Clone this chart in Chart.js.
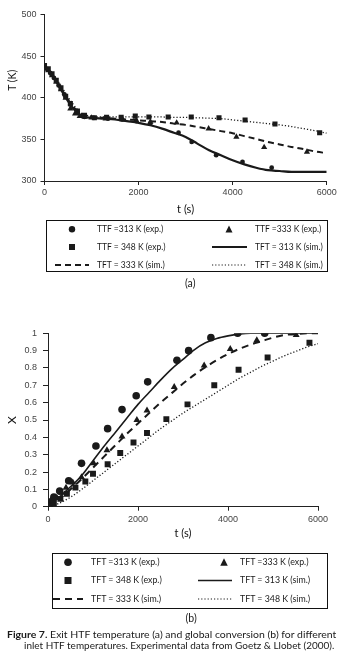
<!DOCTYPE html>
<html><head><meta charset="utf-8">
<script src="https://cdn.jsdelivr.net/npm/chart.js@4.4.0/dist/chart.umd.min.js"></script>
<style>
html,body{margin:0;padding:0;background:#fff;}
body{width:345px;height:670px;position:relative;overflow:hidden;font-family:Lato,"Noto Sans",sans-serif;color:#1a1a1a;}
canvas{position:absolute;left:0;}
.t{position:absolute;white-space:nowrap;line-height:1;}
.box{position:absolute;border:1px solid #111;box-sizing:border-box;}
svg{position:absolute;left:0;top:0;overflow:visible;}
</style></head><body>
<canvas id="ca" width="345" height="216" style="top:0"></canvas>
<canvas id="cb" width="345" height="220" style="top:320px"></canvas>
<svg id="sym" width="345" height="670"></svg>
<div id="txt"></div>
<script>
// ---------- Panel (a): exit HTF temperature ----------
const timeA313exp = [0,60,120,200,300,420,550,700,850,1050,1350,1650,1950,2250,2850,3130,3650,4210,4830];
const tempA313exp = [437,434,430,424,415,404,392,382,377,376,375,374,372,369,358,347,331,323,316];
const timeA333exp = [0,80,160,250,350,450,550,650,750,850,1000,1300,1650,1950,2250,2810,3490,4080,4670,5580];
const tempA333exp = [438,433,427,419,410,400,387,381,378,377,376,375,374,372.5,371,370,363,353,340.5,335];
const timeA348exp = [0,80,160,250,350,450,550,700,850,1060,1320,1630,1930,2220,2630,3120,3710,4265,4900,5850];
const tempA348exp = [439,435,429,421,412,402,393,384,379,376,376.5,376.5,378,377,377,377,376,373.3,368.5,358];
const timeSimA  = [0,100,200,300,400,500,600,700,800,1000,1250,1500,1750,2000,2250,2500,2750,3000,3250,3500,3750,4000,4250,4500,4750,5000,5250,5500,5750,6000];
const tempSim313 = [438,432,424,415,405,396,388,382,378,376,375,374,372,370,367,363,358,353,345,337,331,325,320,316,313,312,311,311,311,311];
const tempSim333 = [438,432,425,416,407,398,390,384,380,377,376,375,374,373,372,371,369,367.5,365,362.5,360,357.5,354,350.5,347,344,341,338.5,335.5,333.5];
const tempSim348 = [440,434,427,419,410,401,393,386,381,378,377,377,377,377,377,377,376.5,376.5,376,375.5,375,373.5,372,370.5,369,367.5,365.5,363,360.5,357.5];
const ticksA_x = [0,2000,4000,6000];
const ticksA_y = [300,350,400,450,500];

// ---------- Panel (b): global conversion ----------
const timeB313exp = [30,80,130,260,460,745,1065,1325,1645,1960,2215,2865,3125,3620,4215,4815];
const convB313exp = [0.01,0.03,0.055,0.09,0.15,0.25,0.35,0.45,0.56,0.64,0.72,0.845,0.9,0.975,1.0,1.0];
const timeB333exp = [30,100,200,300,400,550,745,1015,1310,1645,1975,2200,2805,3470,4050,4640,5515];
const convB333exp = [0.01,0.03,0.05,0.08,0.11,0.14,0.17,0.25,0.325,0.405,0.5,0.555,0.69,0.815,0.91,0.96,0.99];
const timeB348exp = [30,130,275,420,610,830,1000,1325,1605,1900,2200,2630,3100,3695,4235,4880,5810];
const convB348exp = [0.005,0.02,0.045,0.075,0.11,0.145,0.19,0.245,0.31,0.37,0.425,0.505,0.59,0.7,0.79,0.86,0.945];
const timeSimB313 = [0,250,500,750,1000,1250,1500,1750,2000,2250,2500,2750,3000,3250,3500,3750,4000,4250,4500,5000,5500,6000];
const convSim313  = [0,0.055,0.115,0.18,0.265,0.35,0.43,0.51,0.59,0.66,0.73,0.795,0.85,0.905,0.945,0.97,0.985,0.995,1,1,1,1];
const timeSimB = [0,250,500,750,1000,1250,1500,1750,2000,2250,2500,2750,3000,3250,3500,3750,4000,4250,4500,4750,5000,5250,5500,5750,6000];
const convSim333 = [0,0.045,0.1,0.16,0.225,0.29,0.355,0.42,0.48,0.54,0.6,0.655,0.71,0.76,0.805,0.845,0.88,0.91,0.935,0.955,0.975,0.99,0.995,1,1];
const timeSimB348 = [0,100,250,500,750,1000,1250,1500,1750,2000,2250,2500,2750,3000,3250,3500,3750,4000,4250,4500,4750,5000,5250,5500,5750,6000];
const convSim348  = [0,0.005,0.02,0.055,0.1,0.15,0.2,0.25,0.3,0.35,0.4,0.45,0.495,0.54,0.58,0.62,0.66,0.7,0.74,0.775,0.81,0.84,0.87,0.895,0.92,0.94];
const ticksB_x = [0,2000,4000,6000];

const INK = '#1a1a1a';
const pts = (xs, ys) => xs.map((x, i) => ({x, y: ys[i]}));
const marker = (xs, ys, style, r) => ({data: pts(xs, ys), pointStyle: style, pointRadius: r,
  pointBackgroundColor: INK, pointBorderColor: INK, pointBorderWidth: 0, showLine: false});
const line = (xs, ys, w, dash) => ({data: pts(xs, ys), showLine: true, pointRadius: 0,
  borderColor: INK, borderWidth: w, borderDash: dash, cubicInterpolationMode: 'monotone', fill: false});

const tickFont = {family: '"Liberation Sans", Arial, sans-serif', size: 9};
function axisCommon(extra) {
  return Object.assign({
    type: 'linear',
    grid: {display: true, drawOnChartArea: false, drawTicks: true, tickLength: 4, color: '#222', lineWidth: 1},
    border: {display: true, color: '#222', width: 1},
  }, extra);
}
const plain = v => String(Number(Number(v).toFixed(1)));

new Chart(document.getElementById('ca'), {
  type: 'scatter',
  data: {datasets: [
    line(timeSimA, tempSim348, 1.3, [1.2, 2]),
    line(timeSimA, tempSim333, 2, [6, 4]),
    line(timeSimA, tempSim313, 2.2, []),
    marker(timeA348exp, tempA348exp, 'rect', 3.6),
    marker(timeA333exp, tempA333exp, 'triangle', 3.6),
    marker(timeA313exp, tempA313exp, 'circle', 2.4),
  ]},
  options: {
    responsive: false, animation: false, devicePixelRatio: 1,
    layout: {padding: {top: 14.7, right: 18.3, left: 0, bottom: 0}},
    plugins: {legend: {display: false}, tooltip: {enabled: false}},
    scales: {
      x: axisCommon({min: 0, max: 6000,
        afterBuildTicks: s => { s.ticks = ticksA_x.map(v => ({value: v})); },
        ticks: {color: '#444', font: tickFont, padding: 2, maxRotation: 0, callback: plain},
        title: {display: true, text: 't (s)', color: '#111', font: {family: 'Lato', size: 11}, padding: 0},
        afterFit: s => { s.height = 35; }}),
      y: axisCommon({min: 300, max: 500,
        afterBuildTicks: s => { s.ticks = ticksA_y.map(v => ({value: v})); },
        ticks: {color: '#444', font: tickFont, padding: 4, callback: plain},
        afterFit: s => { s.width = 44.5; }}),
    }
  }
});

new Chart(document.getElementById('cb'), {
  type: 'scatter',
  data: {datasets: [
    line(timeSimB348, convSim348, 1.3, [1.2, 2]),
    line(timeSimB, convSim333, 2, [7, 5]),
    line(timeSimB313, convSim313, 1.6, []),
    marker(timeB348exp, convB348exp, 'rect', 4.2),
    marker(timeB333exp, convB333exp, 'triangle', 4),
    marker(timeB313exp, convB313exp, 'circle', 3.8),
  ]},
  options: {
    responsive: false, animation: false, devicePixelRatio: 1,
    layout: {padding: {top: 13.3, right: 27, left: 0, bottom: 0}},
    plugins: {legend: {display: false}, tooltip: {enabled: false}},
    scales: {
      x: axisCommon({min: 0, max: 6000,
        afterBuildTicks: s => { s.ticks = ticksB_x.map(v => ({value: v})); },
        ticks: {color: '#444', font: tickFont, padding: 3, maxRotation: 0, callback: plain},
        title: {display: true, text: 't (s)', color: '#111', font: {family: 'Lato', size: 11}, padding: 0},
        afterFit: s => { s.height = 33.3; }}),
      y: axisCommon({min: 0, max: 1,
        ticks: {color: '#444', font: tickFont, padding: 6, stepSize: 0.1, callback: plain},
        grid: {display: true, drawOnChartArea: false, drawTicks: true, tickLength: 5, color: '#222', lineWidth: 1},
        title: {display: true, text: 'X', color: '#111', font: {family: 'Lato', size: 12}, padding: {top: 5}},
        afterFit: s => { s.width = 48; }}),
    }
  }
});

// ---------- HTML text, legend boxes and symbols ----------
const txt = document.getElementById('txt');
function addText(s, x, y, size, opts = {}) {
  const d = document.createElement('div');
  d.className = 't';
  d.textContent = s;
  d.style.fontSize = size + 'px';
  if (opts.weight) d.style.fontWeight = opts.weight;
  txt.appendChild(d);
  const w = d.offsetWidth, h = d.offsetHeight;
  let left = x;
  if (opts.align === 'center') left = x - w / 2;
  d.style.left = left + 'px';
  d.style.top = (y - h / 2) + 'px';
  if (opts.rotate) { d.style.left = (x - w / 2) + 'px'; d.style.transform = 'rotate(-90deg)'; }
  return d;
}
function addBox(x, y, w, h) {
  const d = document.createElement('div');
  d.className = 'box';
  Object.assign(d.style, {left: x + 'px', top: y + 'px', width: w + 'px', height: h + 'px'});
  txt.appendChild(d);
}
const svg = document.getElementById('sym');
function svgEl(tag, attrs) {
  const e = document.createElementNS('http://www.w3.org/2000/svg', tag);
  for (const k in attrs) e.setAttribute(k, attrs[k]);
  svg.appendChild(e);
}
const symCircle = (cx, cy, r) => svgEl('circle', {cx, cy, r, fill: INK});
const symSquare = (cx, cy, s) => svgEl('rect', {x: cx - s / 2, y: cy - s / 2, width: s, height: s, fill: INK});
const symTri = (cx, cy, s) => svgEl('polygon', {points: `${cx},${cy - s * 0.6} ${cx - s / 2},${cy + s * 0.4} ${cx + s / 2},${cy + s * 0.4}`, fill: INK});
const symLine = (x1, x2, y, w, dash) => svgEl('line', {x1, x2, y1: y, y2: y, stroke: INK, 'stroke-width': w, 'stroke-dasharray': dash || 'none'});

// y title of panel (a)
addText('T (K)', 12, 80, 10.5, {rotate: true});

// legend (a)
addBox(46, 220, 282, 52);
const la = [229.3, 247, 265];
symCircle(72, la[0], 3.2);
symSquare(72, la[1], 6);
symLine(55, 89, la[2], 2, '6 4');
symTri(229, la[0] + 0.5, 7);
symLine(212, 247, la[1], 2.2);
symLine(212, 247, la[2], 1.1, '1.2 2');
const fsA = 8.5;
addText('TTF =313 K (exp.)', 97, la[0], fsA);
addText('TTF = 348 K (exp.)', 97, la[1], fsA);
addText('TFT = 333 K (sim.)', 97, la[2], fsA);
addText('TTF =333 K (exp.)', 255, la[0], fsA);
addText('TFT = 313 K (sim.)', 255, la[1], fsA);
addText('TFT = 348 K (sim.)', 255, la[2], fsA);
addText('(a)', 190, 283, 10.5, {align: 'center'});

// legend (b)
addBox(52, 553, 276, 56);
const lb = [562.3, 580.5, 599];
symCircle(68, lb[0], 3.8);
symSquare(68, lb[1], 7);
symLine(53, 83, lb[2], 2.2, '7 5');
symTri(224, lb[0] + 0.5, 7.5);
symLine(198, 232, lb[1], 1.6);
symLine(198, 232, lb[2], 1.1, '1.2 2');
const fsB = 8.8;
addText('TFT =313 K (exp.)', 91, lb[0], fsB);
addText('TFT = 348 K (exp.)', 91, lb[1], fsB);
addText('TFT = 333 K (sim.)', 91, lb[2], fsB);
addText('TFT =333 K (exp.)', 240, lb[0], fsB);
addText('TFT = 313 K (sim.)', 240, lb[1], fsB);
addText('TFT = 348 K (sim.)', 240, lb[2], fsB);
addText('(b)', 191, 618, 10.5, {align: 'center'});

// caption
function fitLine(html, xL, xR, y, size) {
  const d = document.createElement('div');
  d.className = 't';
  d.innerHTML = html;
  d.style.fontSize = size + 'px';
  txt.appendChild(d);
  const w = d.offsetWidth, h = d.offsetHeight;
  d.style.left = xL + 'px';
  d.style.top = (y - h / 2) + 'px';
  d.style.transformOrigin = 'left center';
  d.style.transform = `scaleX(${(xR - xL) / w})`;
}
fitLine('<b>Figure 7.</b> Exit HTF temperature (a) and global conversion (b) for different', 7, 336, 634, 9.2);
fitLine('inlet HTF temperatures. Experimental data from Goetz &amp; Llobet (2000).', 24, 334, 645.5, 9.2);
</script>
</body></html>
